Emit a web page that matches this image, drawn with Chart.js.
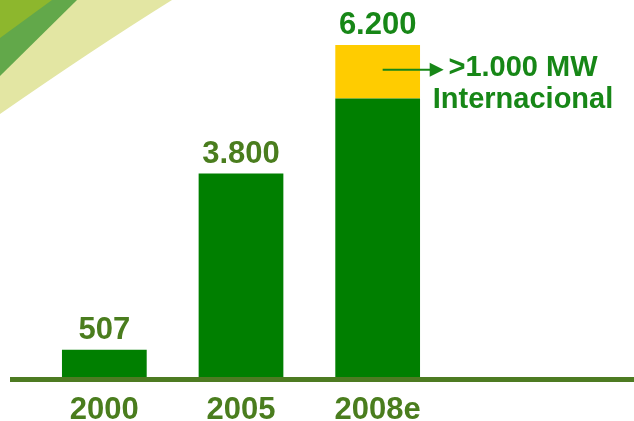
<!DOCTYPE html>
<html>
<head>
<meta charset="utf-8">
<script src="https://cdn.jsdelivr.net/npm/chart.js@4.4.1/dist/chart.umd.min.js"></script>
<style>
html, body { margin: 0; padding: 0; background: #fff; }
#myChart { display: block; }
</style>
</head>
<body>
<canvas id="myChart" width="634" height="421"></canvas>
<script>
// data (MW)
const categories = ['2000', '2005', '2008e'];
const nationalMW = [507, 3800, 5200];
const internationalMW = [0, 0, 1000];
const annotationLines = ['>1.000 MW', 'Internacional'];

const FONT = '"Liberation Sans", Arial, sans-serif';
const OLIVE = '#4a7d1e';
const GREEN = '#007f00';
const YELLOW = '#ffcc00';
const TOTAL_COLORS = [OLIVE, OLIVE, '#178717'];

function fmt(n) {
    // 3800 -> "3.800"
    return String(n).replace(/\B(?=(\d{3})+(?!\d))/g, '.');
}

// decorative swoosh in the top-left corner
const backdrop = {
    id: 'backdrop',
    beforeDraw(chart) {
        const ctx = chart.ctx;
        ctx.save();
        ctx.fillStyle = '#ffffff';
        ctx.fillRect(0, 0, chart.width, chart.height);
        ctx.fillStyle = '#e3e6a3';
        ctx.beginPath();
        ctx.moveTo(0, 0);
        ctx.lineTo(172, 0);
        ctx.quadraticCurveTo(95, 48, 0, 114);
        ctx.closePath();
        ctx.fill();
        ctx.fillStyle = '#62a84a';
        ctx.beginPath();
        ctx.moveTo(0, 0);
        ctx.lineTo(77, 0);
        ctx.lineTo(0, 76);
        ctx.closePath();
        ctx.fill();
        ctx.fillStyle = '#8db72d';
        ctx.beginPath();
        ctx.moveTo(0, 0);
        ctx.lineTo(52, 0);
        ctx.lineTo(0, 38);
        ctx.closePath();
        ctx.fill();
        ctx.restore();
    }
};

// baseline, totals above the bars and the arrow note
const extras = {
    id: 'extras',
    afterDatasetsDraw(chart) {
        const ctx = chart.ctx;
        const yScale = chart.scales.y;
        const zero = yScale.getPixelForValue(0);
        ctx.save();
        ctx.fillStyle = '#4d7b22';
        ctx.fillRect(10, zero, chart.width - 10, 5);

        const m0 = chart.getDatasetMeta(0);
        const m1 = chart.getDatasetMeta(1);
        ctx.font = 'bold 31px ' + FONT;
        ctx.textAlign = 'center';
        ctx.textBaseline = 'alphabetic';
        categories.forEach((c, i) => {
            const total = nationalMW[i] + internationalMW[i];
            const top = internationalMW[i] > 0 ? m1.data[i] : m0.data[i];
            ctx.fillStyle = TOTAL_COLORS[i];
            ctx.fillText(fmt(total), top.x, top.y - 11);
        });

        // arrow from the international slice
        const k = internationalMW.findIndex(v => v > 0);
        const el = m1.data[k];
        const ay = (el.y + el.base) / 2 - 2;
        const x0 = el.x + 5, x1 = el.x + 66;
        ctx.strokeStyle = '#178717';
        ctx.fillStyle = '#178717';
        ctx.lineWidth = 2;
        ctx.beginPath();
        ctx.moveTo(x0, ay);
        ctx.lineTo(x1 - 12, ay);
        ctx.stroke();
        ctx.beginPath();
        ctx.moveTo(x1, ay);
        ctx.lineTo(x1 - 14, ay - 7);
        ctx.lineTo(x1 - 14, ay + 7);
        ctx.closePath();
        ctx.fill();

        ctx.font = 'bold 29px ' + FONT;
        ctx.fillText(annotationLines[0], 523, ay + 6);
        ctx.fillText(annotationLines[1], 523, ay + 38);
        ctx.restore();
    }
};

const ctx = document.getElementById('myChart').getContext('2d');
const chart = new Chart(ctx, {
    type: 'bar',
    data: {
        labels: categories,
        datasets: [{
            label: 'Nacional',
            data: nationalMW,
            backgroundColor: GREEN,
            borderWidth: 0
        }, {
            label: 'Internacional',
            data: internationalMW,
            backgroundColor: YELLOW,
            borderWidth: 0
        }]
    },
    options: {
        responsive: false,
        animation: false,
        layout: {
            padding: { left: 36, right: 188, top: 45, bottom: -23 }
        },
        plugins: {
            legend: { display: false },
            tooltip: { enabled: false }
        },
        datasets: {
            bar: { categoryPercentage: 1, barPercentage: 0.62 }
        },
        scales: {
            x: {
                stacked: true,
                grid: { display: false, drawTicks: false },
                border: { display: false },
                ticks: {
                    color: OLIVE,
                    padding: 18,
                    font: { family: FONT, size: 31, weight: 'bold', lineHeight: 1 }
                }
            },
            y: {
                stacked: true,
                display: false,
                min: 0,
                max: 6200
            }
        }
    },
    plugins: [backdrop, extras]
});
</script>
</body>
</html>
